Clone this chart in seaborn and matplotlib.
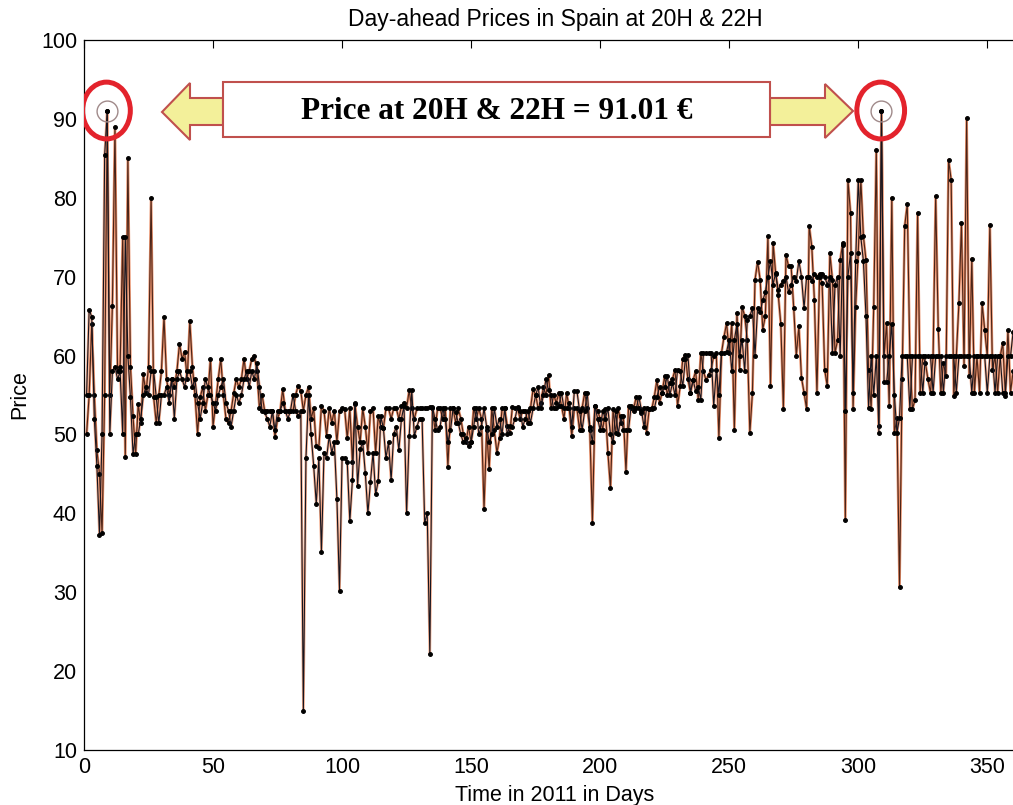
import numpy as np
import pandas as pd
import matplotlib
matplotlib.use("Agg")
import matplotlib.pyplot as plt
import seaborn as sns
from matplotlib.patches import Ellipse, Polygon, Rectangle

# ---------------- data ----------------
price_20h = [
    50, 55, 64, 55, 48, 45, 37.5, 55, 91.01, 55,
    66.3, 89, 58, 58.6, 75, 47.2, 85, 58.6, 52.3, 47.5,
    53.8, 51.4, 57.6, 55.2, 58.6, 80, 54.7, 51.4, 55, 58,
    64.9, 57, 55, 57, 56, 58, 61.5, 59.6, 60.5, 57,
    64.4, 58.6, 55, 50.1, 54.7, 56, 53, 55, 59.6, 51,
    54, 57, 59.6, 55, 52, 51.4, 53, 55.2, 57, 56,
    57, 59.6, 57, 58, 59.6, 60, 58, 53.3, 55, 53,
    53, 53, 53, 49.7, 52, 53, 55.7, 53, 53, 53,
    53, 55, 56.2, 55.5, 53, 55, 56, 52, 53.3, 48.5,
    48.3, 53.6, 53, 49.8, 53.3, 51.5, 53, 49, 53, 53.3,
    53.2, 49.5, 53.3, 46.5, 53.8, 51, 49, 53.3, 51, 47.7,
    53, 53.3, 47.7, 52.3, 51, 50.8, 53.3, 53.3, 52, 53.3,
    53.3, 52, 53.6, 54, 53.3, 55.6, 53.3, 52, 53.3, 53.3,
    53.3, 53.3, 53.3, 53.5, 53.3, 50.6, 53.3, 53.3, 52, 53.3,
    45.9, 53.3, 53.3, 51.5, 53.3, 52, 50, 49, 51, 49,
    53.3, 52, 53.3, 52, 40.5, 50.6, 45.6, 53.3, 50.5, 47.7,
    49.5, 53.3, 53.3, 51.1, 50.2, 53.5, 53.3, 53.3, 52, 53,
    53, 51.5, 53.3, 55.7, 55, 53.3, 54, 56, 55, 57.5,
    53.3, 55, 54, 55.3, 53.6, 52, 55.3, 53.3, 49.8, 53.3,
    53.3, 50.6, 53.3, 55.3, 53.3, 50.6, 38.8, 53.6, 53, 52,
    50.6, 53.2, 47.7, 43.2, 53.2, 50.2, 53.3, 51.5, 52.3, 45.3,
    53.6, 53.3, 53.3, 54.8, 53.3, 52.7, 53.3, 50.2, 53.2, 53.2,
    54.8, 56.9, 54, 55.3, 57.4, 55, 56.5, 57, 58.2, 53.6,
    56.1, 59.5, 60.1, 57, 55.3, 56.9, 58, 54.4, 60.3, 58,
    56.9, 57.5, 58.2, 60, 60.3, 49.6, 60.3, 62.4, 64.1, 60.3,
    64.1, 50.6, 65.4, 58.2, 66.2, 65, 62, 50.2, 55.3, 69.6,
    71.9, 69.6, 63.3, 65, 75.1, 56.1, 74.3, 70.4, 67.7, 64,
    53.2, 72.8, 71.3, 71.3, 66, 60, 63.7, 57.2, 55.3, 53.2,
    76.4, 73.8, 67.1, 55.3, 70, 69.2, 58.2, 56.1, 73, 69.6,
    60.3, 62, 72.1, 74.3, 39.2, 82.3, 78.1, 53.2, 66.2, 73,
    82.3, 75.1, 72.1, 58.2, 53.2, 66.2, 86.1, 51.1, 91.01, 59.9,
    64.1, 53.6, 80, 50.2, 52.1, 30.6, 57, 76.4, 79.2, 59.9,
    53.2, 54.4, 78.1, 55.3, 59.9, 59.1, 57, 55.3, 59.9, 80.2,
    63.4, 55.3, 59.1, 57.4, 84.8, 82.3, 54.9, 59.9, 66.6, 76.8,
    58.7, 90.1, 57.4, 72.3, 55.3, 59.9, 55.3, 66.6, 63.2, 59.9,
    76.6, 58.2, 59.9, 55.3, 59.9, 61.6, 54.9, 63.2, 55.3, 58,
    57, 60, 58, 55, 59,
]

price_22h = [
    55, 65.8, 64.9, 52, 46, 37.3, 50, 85.4, 91.01, 50,
    58, 58.6, 57, 58, 50, 75, 60, 54.7, 47.5, 50,
    50, 52, 55, 56, 55, 58, 58, 54.7, 51.4, 55,
    55, 56, 54, 57, 52, 57, 58, 57, 56, 58,
    58, 56, 57, 54, 52, 54, 57, 56, 55, 54,
    53, 55, 56, 57, 54, 53, 51, 53, 55, 54,
    55, 57, 58, 56, 58, 57, 59, 56, 53, 52.8,
    52, 51, 53, 50.5, 53, 53, 54, 53, 52, 53,
    55, 53, 52.3, 53, 15, 47, 55, 50, 46, 41.2,
    47, 35.1, 47.7, 47, 49.8, 47.7, 49, 41.8, 30.2, 47,
    47, 46.5, 39, 44.2, 54, 43.5, 48.1, 49, 45.1, 40,
    44, 47.7, 42.4, 44.1, 52.3, 50.8, 47, 49, 44.2, 50,
    51, 48, 52, 53.6, 40, 49.8, 55.6, 49.8, 51, 52,
    52, 38.8, 40, 22.2, 53.5, 52, 50.6, 51, 53.3, 52,
    49, 50.5, 53.3, 52.8, 51.5, 50, 49, 49.5, 48.5, 49,
    51, 53.3, 50, 51, 53.3, 51, 49, 50, 53.3, 51,
    52, 50, 53.3, 50, 51.1, 51, 52, 53.5, 53, 51,
    52, 53, 51.5, 53.3, 55, 56, 53.3, 55, 57, 55.6,
    55, 53.3, 53.3, 53.6, 55.3, 53.3, 53.3, 54, 51, 55.5,
    55.5, 53, 50.6, 53, 55.3, 51, 49, 53.6, 52, 50.6,
    53, 52, 53.3, 50, 49, 53, 50, 52.3, 50.6, 50.6,
    50.6, 53.6, 53, 53.3, 54.8, 53, 51, 53.3, 53.2, 53.3,
    53.3, 54.8, 56, 55.3, 56, 57.4, 55, 56.5, 55, 58.2,
    58, 56.1, 59.5, 60.1, 55.3, 56.9, 55.5, 56, 54.4, 60.3,
    60.3, 60.3, 60.3, 53.6, 58.2, 55, 60.3, 60.3, 60.5, 62,
    58, 62, 64, 60, 62, 58, 64.5, 65, 66, 60,
    66, 65.5, 67, 68, 70, 72, 69, 70.5, 68.3, 69,
    69.5, 70, 68, 69, 70, 69.5, 72, 70, 66, 70,
    70, 69.5, 70.4, 70, 70.4, 70.4, 70, 69, 70, 60.3,
    69, 70, 59.9, 74, 53, 70, 73, 55.3, 72, 82.3,
    75, 72, 65, 53.4, 60, 55, 59.9, 50.2, 91.01, 56.6,
    56.6, 60, 64, 55, 50.2, 52.1, 59.9, 59.9, 59.9, 53.2,
    59.9, 59.9, 59.9, 59.9, 55.3, 59.9, 59.9, 59.9, 55.3, 59.9,
    59.9, 59.9, 55.3, 59.9, 59.9, 59.9, 59.9, 55.3, 59.9, 59.9,
    59.9, 59.9, 59.9, 55.3, 59.9, 59.9, 60, 59.9, 59.9, 55.3,
    59.9, 59.9, 55.3, 59.9, 59.9, 55.3, 55.3, 59.9, 59.9, 63,
    60, 55, 61, 59.9, 58,
]

x_ticks = [0, 50, 100, 150, 200, 250, 300, 350]
y_ticks = [10, 20, 30, 40, 50, 60, 70, 80, 90, 100]
peak_price = 91.01
title = "Day-ahead Prices in Spain at 20H & 22H"
x_label = "Time in 2011 in Days"
y_label = "Price"
note = "Price at 20H & 22H = 91.01 \u20ac"

df20 = pd.DataFrame({"day": np.arange(1, len(price_20h) + 1), "price": price_20h})
df22 = pd.DataFrame({"day": np.arange(1, len(price_22h) + 1), "price": price_22h})

# ---------------- figure ----------------
sns.set_style("white")
plt.rcParams["font.family"] = ["Liberation Sans", "DejaVu Sans"]
plt.rcParams["text.color"] = "black"
plt.rcParams["axes.labelcolor"] = "black"

W, H = 1013, 805
fig = plt.figure(figsize=(W / 100, H / 100), dpi=100)
ax = fig.add_axes([84 / W, 55 / H, (1026 - 84) / W, 710 / H])

# coloured fringe under each series, thin dark core with dot markers on top
for df, under in ((df20, "#e8865c"), (df22, "#f0a07c")):
    sns.lineplot(data=df, x="day", y="price", ax=ax, color=under, linewidth=1.9,
                 estimator=None, sort=False, alpha=0.9)
for df, core in ((df20, "#4a2418"), (df22, "#151520")):
    sns.lineplot(data=df, x="day", y="price", ax=ax, color=core, linewidth=0.8,
                 marker=".", markersize=5.5, markerfacecolor="black",
                 markeredgecolor="black", estimator=None, sort=False)

ax.set_xlim(0, 365)
ax.set_ylim(10, 100)
ax.set_xticks(x_ticks)
ax.set_yticks(y_ticks)
ax.tick_params(direction="in", top=True, right=True, length=6, width=0.8,
               labelsize=15.5, colors="black", pad=5)
for s in ax.spines.values():
    s.set_color("black")
    s.set_linewidth(0.9)
ax.set_title(title, fontsize=16.5, pad=10, color="black")
ax.set_xlabel(x_label, fontsize=15.5, labelpad=5)
ax.set_ylabel(y_label, fontsize=15.5, labelpad=8)

# ---- highlight of the two equal peaks ----
peak_days = [d for d, a, b in zip(df20["day"], price_20h, price_22h)
             if a == peak_price and b == peak_price]
for d in peak_days:
    ax.plot([d], [peak_price], marker="o", markersize=15, markerfacecolor="none",
            markeredgecolor="#a08a8a", markeredgewidth=1.0, zorder=5)
    ax.add_patch(Ellipse((d - 0.3, peak_price + 0.05), width=18.5, height=7.2,
                         fill=False, edgecolor="#e3232c", linewidth=3.6, zorder=6))

# ---- annotation box and arrows (pixel coordinates of the figure) ----
def px(x, y):
    return (x / W, 1 - y / H)

box_edge = "#c0504d"
arrow_fill = "#f3f09a"
left_arrow = [px(162, 112), px(190, 83), px(190, 98), px(223, 98),
              px(223, 125), px(190, 125), px(190, 140)]
right_arrow = [px(770, 98), px(825, 98), px(825, 84), px(853, 111),
               px(825, 138), px(825, 125), px(770, 125)]
for pts in (left_arrow, right_arrow):
    fig.patches.append(Polygon(pts, closed=True, facecolor=arrow_fill, edgecolor=box_edge,
                               linewidth=1.5, transform=fig.transFigure, zorder=7))
x0, y0 = px(223, 137)
x1, y1 = px(770, 82)
fig.patches.append(Rectangle((x0, y0), x1 - x0, y1 - y0, facecolor="white",
                             edgecolor=box_edge, linewidth=1.5,
                             transform=fig.transFigure, zorder=8))
tx, ty = px(497, 111)
fig.text(tx, ty, note, ha="center", va="center", fontsize=22.5, fontweight="bold",
         family=["Liberation Serif", "DejaVu Serif"], zorder=9, color="black")

fig.savefig("out.png", dpi=100, facecolor="white")
